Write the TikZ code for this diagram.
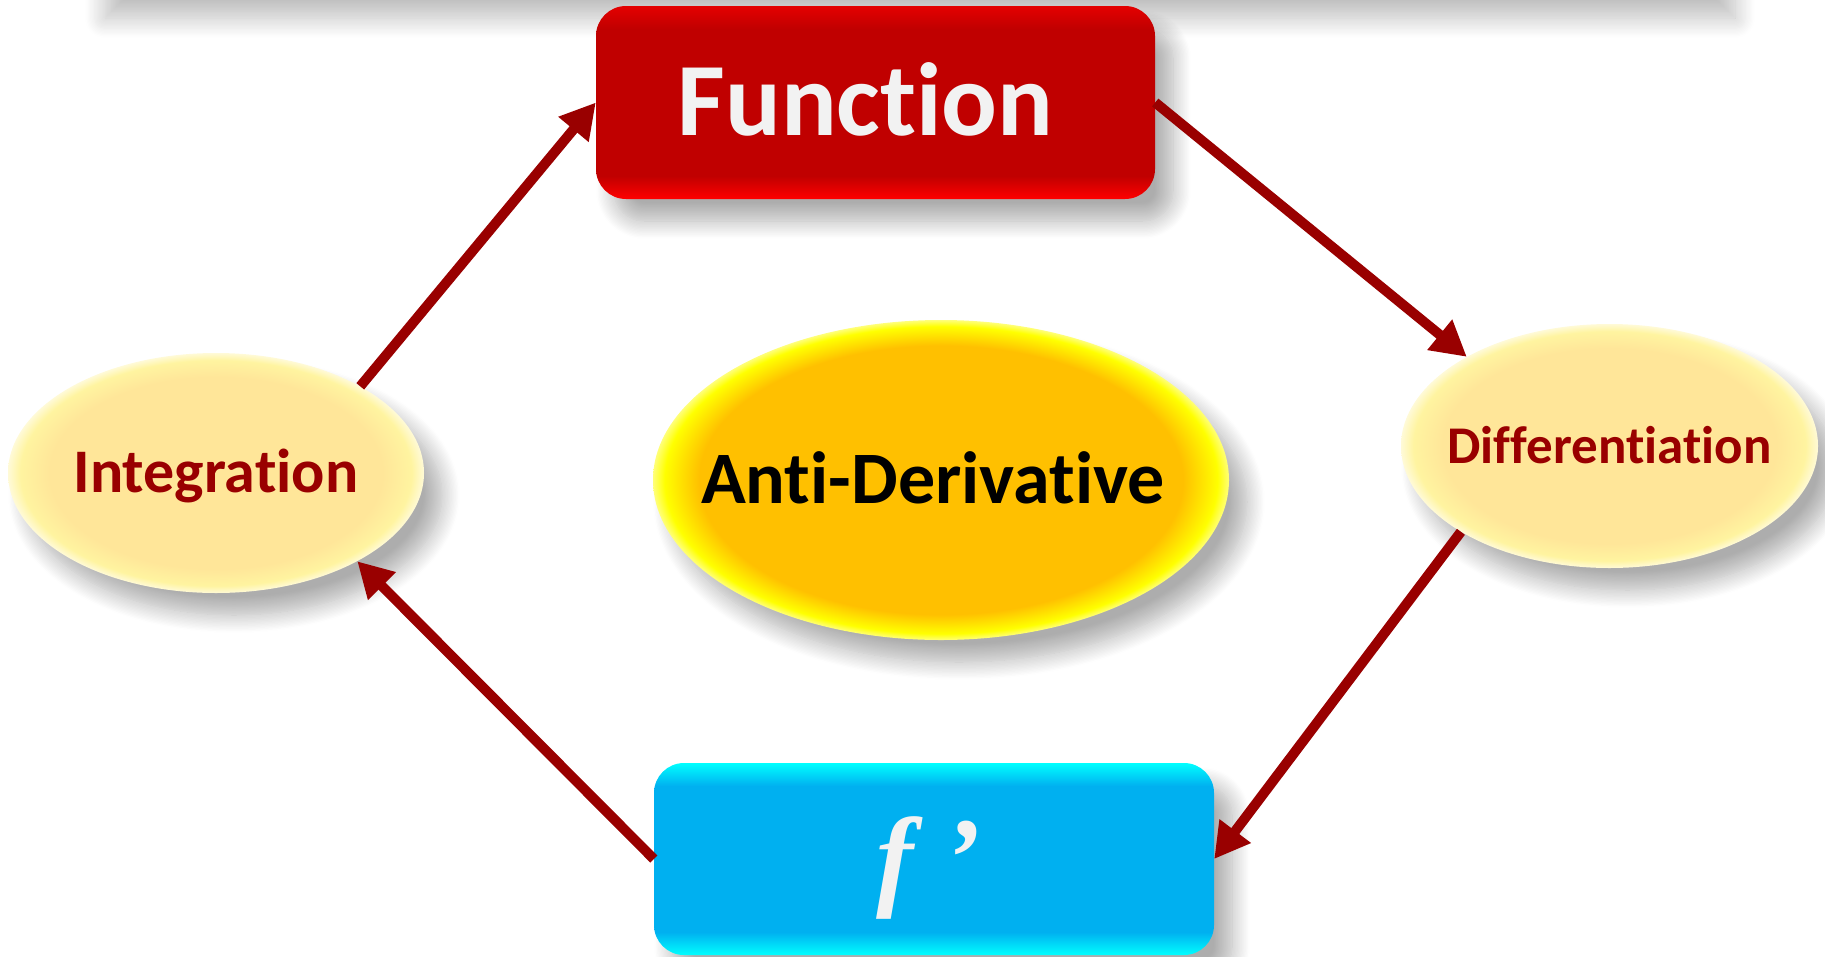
\documentclass[tikz,border=0pt]{standalone}
\usepackage{fontspec}
\setmainfont{Carlito}[Ligatures=NoCommon]
\newfontfamily\serifit{Liberation Serif}
\usetikzlibrary{shapes.geometric,arrows.meta,shadows.blur}
\definecolor{arrowred}{RGB}{153,0,0}
\definecolor{fmain}{RGB}{192,0,0}
\definecolor{ftop}{RGB}{228,0,0}
\definecolor{fbot}{RGB}{255,0,0}
\definecolor{cmain}{RGB}{0,176,240}
\definecolor{cedge}{RGB}{0,255,255}
\definecolor{pin}{RGB}{255,230,153}
\definecolor{pedge}{RGB}{255,244,160}
\definecolor{pout}{RGB}{255,250,215}
\definecolor{ain}{RGB}{255,192,0}
\definecolor{aedge}{RGB}{255,255,0}
\definecolor{aout}{RGB}{255,255,120}
\definecolor{lighttext}{RGB}{242,242,242}
\pgfdeclareverticalshading{funcshade}{100bp}{color(0bp)=(fbot); color(25bp)=(fbot); color(31bp)=(fmain); color(69bp)=(fmain); color(75bp)=(ftop); color(100bp)=(ftop)}
\pgfdeclareverticalshading{cyanshade}{100bp}{color(0bp)=(cedge); color(25bp)=(cedge); color(31bp)=(cmain); color(69bp)=(cmain); color(75bp)=(cedge); color(100bp)=(cedge)}
\pgfdeclareradialshading{paleglow}{\pgfpoint{0bp}{0bp}}{color(0bp)=(pin); color(20bp)=(pin); color(23.5bp)=(pedge); color(25bp)=(pout); color(50bp)=(pout)}
\pgfdeclareradialshading{goldglow}{\pgfpoint{0bp}{0bp}}{color(0bp)=(ain); color(21bp)=(ain); color(24bp)=(aedge); color(25bp)=(aout); color(50bp)=(aout)}
\newcommand{\capcenter}[1]{\makebox[0pt]{\raisebox{-0.322em}[0pt][0pt]{#1}}}
\tikzset{
  conn/.style={draw=arrowred, line width=10pt, -{Triangle[length=35pt,width=37pt]}},
  boxnode/.style={rectangle, rounded corners=30pt, inner sep=0pt, shade},
  ovalnode/.style={ellipse, inner sep=0pt, shade},
  dropshadow/.style={blur shadow={shadow xshift=18pt, shadow yshift=-22pt, shadow blur radius=18pt, shadow opacity=32, shadow blur steps=14}},
}
\begin{document}
\begin{tikzpicture}[x=1pt, y=-1pt]
\useasboundingbox (0,0) rectangle (1825,956);
% top shadow band
\path[fill=white, blur shadow={shadow xshift=0pt, shadow yshift=-20pt, shadow blur radius=20pt, shadow opacity=26, shadow blur steps=16}] (105,-100) rectangle (1735,-2);
% nodes
\node[boxnode, dropshadow, shading=funcshade, minimum width=559pt, minimum height=193pt,
      text=lighttext, font=\bfseries\fontsize{104}{110}\selectfont] (func) at (875.5,102.5) {\capcenter{Function\hspace*{20pt}}};
\node[boxnode, dropshadow, shading=cyanshade, minimum width=560pt, minimum height=192pt,
      text=lighttext, font=\serifit\bfseries\itshape\fontsize{112}{120}\selectfont] (fbox) at (934,859) {\capcenter{\hspace*{-4pt}f\hspace{30pt}’\hspace*{6pt}}};
\node[ovalnode, dropshadow, shading=paleglow, minimum width=416pt, minimum height=240pt,
      text=arrowred, font=\bfseries\fontsize{62}{70}\selectfont] (integ) at (216,473) {\capcenter{Integration}};
\node[ovalnode, dropshadow, shading=paleglow, minimum width=417pt, minimum height=244pt,
      text=arrowred, font=\bfseries\fontsize{53}{60}\selectfont] (diff) at (1609.5,446) {\capcenter{Differentiation}};
\node[ovalnode, dropshadow, shading=goldglow, minimum width=576pt, minimum height=320pt,
      text=black, font=\bfseries\fontsize{74}{80}\selectfont] (anti) at (941,480) {\capcenter{Anti-Derivative\hspace*{16pt}}};
% connectors
\draw[conn] (integ.31) -- (func.west);
\draw[conn] (func.east) -- (diff.148);
\draw[conn] (diff.210) -- (fbox.east);
\draw[conn] (fbox.west) -- (integ.328);
\end{tikzpicture}
\end{document}
